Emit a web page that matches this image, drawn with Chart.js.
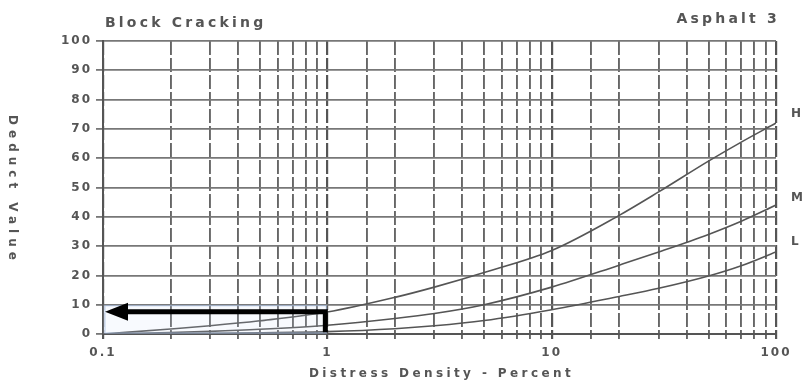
<!DOCTYPE html>
<html>
<head>
<meta charset="utf-8">
<script src="https://cdn.jsdelivr.net/npm/chart.js@4/dist/chart.umd.min.js"></script>
<style>
html,body{margin:0;padding:0;background:#fff;}
#wrap{width:808px;height:381px;}
</style>
</head>
<body>
<div id="wrap"><canvas id="c" width="808" height="381"></canvas></div>
<script>
// Data
const densities = [0.1, 0.2, 0.3, 0.5, 1, 2, 3, 5, 10, 20, 30, 50, 70, 100];
const highSeverity = [0, 1.7, 2.8, 4.5, 7.5, 12.5, 16, 21, 28.5, 40.5, 48.5, 59, 65.5, 72];
const mediumSeverity = [0, 0.5, 0.9, 1.6, 3, 5.3, 7, 10, 16, 23.5, 28, 34, 38.5, 44];
const lowSeverity = [0, 0.1, 0.2, 0.4, 0.8, 1.8, 2.8, 4.6, 8.3, 12.8, 15.6, 19.8, 23.3, 28];
const severityNames = ['H', 'M', 'L'];
const severityLabelValues = [75, 46.5, 31.5];
const arrowX = [1, 1, 0.1];
const arrowY = [0.6, 7.6, 7.6];
const highlightX = [0.1, 1];
const highlightY = [0, 10];
const xTickLabels = {'-1': '0.1', '0': '1', '1': '10', '2': '100'};

const FONT = '"DejaVu Sans", sans-serif';
const TEXT = '#555';

function pts(ys){ return densities.map((d,i)=>({x:d, y:ys[i]})); }
function isDecade(v){ const l = Math.log10(v); return Math.abs(l - Math.round(l)) < 1e-6; }

const spacing = {
  id: 'spacing',
  beforeUpdate(chart){ chart.ctx.letterSpacing = '2px'; },
  beforeDraw(chart){ chart.ctx.letterSpacing = '2px'; }
};

const overlay = {
  id: 'overlay',
  afterDatasetsDraw(chart){
    const ctx = chart.ctx, xs = chart.scales.x, ys = chart.scales.y, a = chart.chartArea;
    ctx.save();
    // faint highlight box
    ctx.strokeStyle = 'rgba(160,185,225,0.55)';
    ctx.fillStyle = 'rgba(210,222,245,0.15)';
    ctx.lineWidth = 1.2;
    const hx0 = xs.getPixelForValue(highlightX[0]), hx1 = xs.getPixelForValue(highlightX[1]);
    const hy0 = ys.getPixelForValue(highlightY[0]), hy1 = ys.getPixelForValue(highlightY[1]);
    ctx.fillRect(hx0, hy1, hx1-hx0, hy0-hy1);
    ctx.strokeRect(hx0+2, hy1+1, hx1-hx0-3, hy0-hy1-2);
    // arrow
    const p = arrowX.map((v,i)=>[xs.getPixelForValue(v), ys.getPixelForValue(arrowY[i])]);
    ctx.strokeStyle = '#000';
    ctx.fillStyle = '#000';
    ctx.lineWidth = 5;
    ctx.lineJoin = 'miter';
    ctx.beginPath();
    ctx.moveTo(p[0][0] - 2, p[0][1]);
    ctx.lineTo(p[1][0] - 2, p[1][1]);
    ctx.lineTo(p[2][0] + 18, p[2][1]);
    ctx.stroke();
    ctx.beginPath();
    ctx.moveTo(p[2][0] + 2, p[2][1]);
    ctx.lineTo(p[2][0] + 25, p[2][1] - 9);
    ctx.lineTo(p[2][0] + 25, p[2][1] + 9);
    ctx.closePath();
    ctx.fill();
    // severity labels
    ctx.fillStyle = TEXT;
    ctx.font = 'bold 12px ' + FONT;
    ctx.letterSpacing = '0px';
    ctx.textBaseline = 'middle';
    ctx.textAlign = 'left';
    severityNames.forEach((n,i)=>{
      ctx.fillText(n, a.right + 15, ys.getPixelForValue(severityLabelValues[i]));
    });
    // titles
    ctx.font = 'bold 14px ' + FONT;
    ctx.letterSpacing = '3.2px';
    ctx.textBaseline = 'alphabetic';
    ctx.textAlign = 'left';
    ctx.fillText('Block Cracking', a.left + 2, 27);
    ctx.textAlign = 'right';
    ctx.fillText('Asphalt 3', a.right + 4, 23);
    ctx.textAlign = 'center';
    ctx.font = 'bold 12px ' + FONT;
    ctx.letterSpacing = '3.4px';
    ctx.fillText('Distress Density - Percent', (a.left + a.right)/2 + 2, 377);
    // y title rotated clockwise
    ctx.save();
    ctx.translate(12, 190);
    ctx.rotate(Math.PI/2);
    ctx.textBaseline = 'middle';
    ctx.font = 'bold 12px ' + FONT;
    ctx.letterSpacing = '5px';
    ctx.fillText('Deduct Value', 0, 0);
    ctx.restore();
    ctx.restore();
  }
};

const lineStyle = {borderColor:'#555', borderWidth:1.6, pointRadius:0, fill:false, cubicInterpolationMode:'monotone'};

new Chart(document.getElementById('c'), {
  type: 'line',
  data: {
    datasets: [
      Object.assign({label:'H', data: pts(highSeverity)}, lineStyle),
      Object.assign({label:'M', data: pts(mediumSeverity)}, lineStyle),
      Object.assign({label:'L', data: pts(lowSeverity)}, lineStyle)
    ]
  },
  options: {
    responsive: false,
    animation: false,
    layout: {padding: {top: 41, right: 32, left: 0, bottom: 0}},
    plugins: {legend: {display:false}, tooltip: {enabled:false}},
    scales: {
      x: {
        type: 'logarithmic',
        min: 0.1, max: 100,
        afterFit(s){ s.height = 47; },
        grid: {
          color: (c) => (c.tick && isDecade(c.tick.value)) ? '#555' : '#666',
          lineWidth: (c) => (c.tick && isDecade(c.tick.value)) ? 2.2 : 1.9,
          tickLength: 5,
          drawTicks: true
        },
        border: {display: true, color:'#555', width: 2, dash: [14, 3]},
        ticks: {
          autoSkip: false,
          maxRotation: 0,
          color: TEXT,
          font: {family: FONT, size: 12, weight: 'bold'},
          padding: 7,
          callback(v){
            if (!isDecade(v)) return '';
            return xTickLabels[String(Math.round(Math.log10(v)))] || '';
          }
        }
      },
      y: {
        min: 0, max: 100,
        afterFit(s){ s.width = 103; },
        grid: {color:'#777', lineWidth: 1.8, tickLength: 7},
        border: {display: true, color:'#555', width: 2},
        ticks: {
          stepSize: 10,
          color: TEXT,
          font: {family: FONT, size: 12, weight: 'bold'},
          padding: 4
        }
      }
    }
  },
  plugins: [spacing, overlay]
});
</script>
</body>
</html>
